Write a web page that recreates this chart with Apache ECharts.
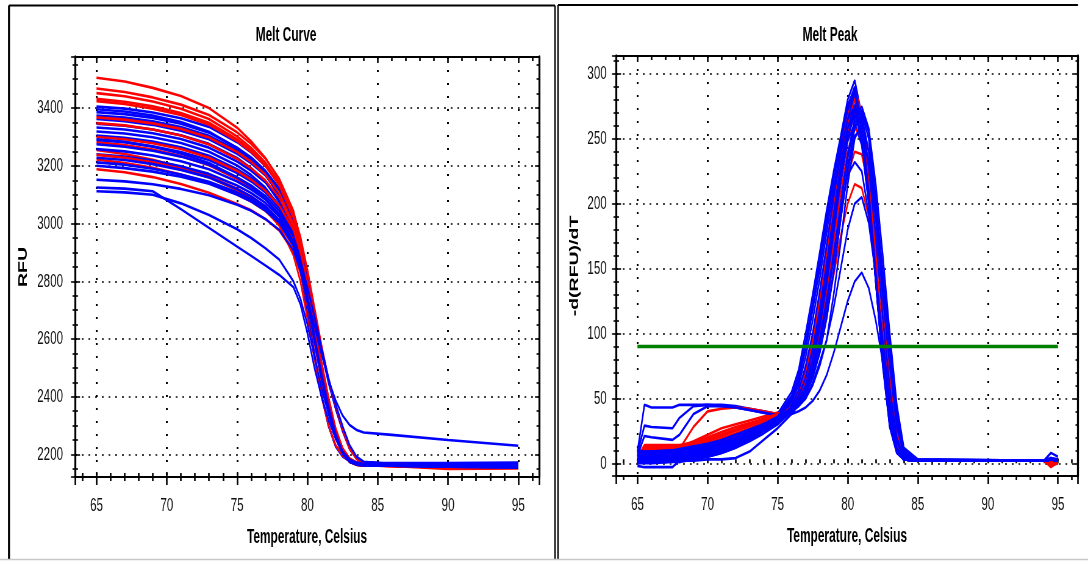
<!DOCTYPE html>
<html><head><meta charset="utf-8">
<script src="https://cdn.jsdelivr.net/npm/echarts@6/dist/echarts.min.js"></script>
<style>
html,body{margin:0;padding:0;background:#fff;overflow:hidden}
#wrap{width:1088px;height:561px;overflow:hidden;position:relative;background:#fff}
#chart{width:1784px;height:561px;transform:scaleX(0.609865);transform-origin:0 0}
</style></head><body><div id="wrap"><div id="chart"></div></div>
<script>
// ---------------- DATA ----------------
// Melt Curve (RFU vs temperature)
const curveTemps = [65,67,69,71,73,75,76,77,78,79,79.5,80,80.5,81,81.5,82,82.5,83,83.5,84,86,90,95];
const curveRed = [
 [3505,3492,3470,3442,3400,3332,3285,3228,3152,3040,2940,2810,2665,2520,2395,2290,2222,2186,2172,2166,2162,2158,2157],
 [3468,3456,3437,3412,3376,3316,3276,3226,3155,3045,2945,2815,2668,2522,2398,2292,2222,2186,2171,2165,2161,2157,2156],
 [3452,3441,3423,3398,3362,3302,3262,3212,3143,3032,2932,2800,2652,2505,2382,2280,2214,2181,2169,2164,2160,2156,2155],
 [3432,3422,3406,3383,3349,3292,3254,3206,3138,3040,2955,2840,2710,2580,2460,2360,2280,2218,2184,2170,2163,2157,2155],
 [3424,3414,3398,3376,3342,3286,3248,3200,3132,3020,2918,2785,2636,2490,2370,2272,2208,2178,2167,2163,2160,2155,2154],
 [3368,3360,3347,3328,3298,3248,3214,3170,3106,3000,2905,2774,2628,2484,2366,2270,2207,2178,2167,2163,2161,2158,2157],
 [3348,3340,3326,3305,3274,3224,3191,3150,3090,2988,2895,2768,2624,2481,2364,2269,2206,2177,2166,2163,2161,2158,2157],
 [3282,3272,3256,3234,3202,3154,3124,3086,3032,2942,2856,2736,2600,2462,2352,2262,2203,2176,2166,2163,2160,2157,2156],
 [3255,3241,3221,3196,3165,3121,3094,3060,3012,2928,2846,2728,2594,2458,2350,2261,2202,2175,2165,2162,2160,2157,2156],
 [3222,3210,3193,3170,3141,3101,3076,3044,2998,2918,2838,2722,2590,2455,2348,2259,2201,2175,2165,2162,2160,2150,2152],
 [3188,3178,3161,3137,3107,3068,3046,3016,2976,2902,2828,2716,2586,2452,2346,2257,2200,2174,2164,2162,2160,2157,2156],
 [3300,3292,3278,3258,3228,3182,3152,3114,3062,2978,2900,2800,2690,2570,2460,2370,2290,2220,2185,2172,2165,2158,2156],
 [3238,3228,3212,3190,3160,3115,3086,3048,2992,2890,2800,2670,2530,2400,2300,2232,2196,2178,2170,2166,2162,2156,2154]
];
const curveBlue = [
 [3405,3398,3385,3365,3335,3282,3246,3200,3135,3025,2925,2790,2642,2497,2377,2278,2212,2182,2172,2170,2170,2170,2172],
 [3396,3388,3374,3352,3318,3262,3222,3170,3095,2960,2850,2700,2550,2410,2300,2230,2195,2178,2172,2170,2169,2168,2168],
 [3386,3379,3366,3346,3315,3263,3229,3184,3121,3013,2915,2783,2636,2493,2374,2276,2211,2181,2171,2169,2168,2167,2167],
 [3374,3367,3354,3334,3304,3254,3220,3177,3114,3007,2910,2780,2634,2491,2373,2275,2210,2180,2170,2168,2167,2166,2166],
 [3362,3355,3342,3322,3292,3242,3209,3167,3106,3004,2915,2805,2690,2565,2455,2365,2288,2222,2188,2174,2168,2166,2165],
 [3346,3339,3326,3306,3276,3227,3192,3145,3075,2950,2840,2690,2540,2405,2300,2232,2196,2178,2171,2168,2166,2164,2164],
 [3333,3326,3313,3293,3263,3215,3183,3143,3084,2983,2889,2763,2621,2483,2367,2272,2208,2179,2169,2166,2165,2164,2163],
 [3319,3312,3299,3279,3249,3201,3168,3125,3060,2945,2840,2695,2545,2405,2298,2228,2193,2177,2170,2167,2165,2163,2162],
 [3305,3297,3284,3264,3235,3188,3158,3120,3064,2968,2876,2752,2612,2477,2362,2269,2206,2177,2167,2165,2164,2162,2161],
 [3290,3282,3268,3248,3220,3175,3146,3108,3054,2960,2870,2748,2608,2475,2360,2268,2205,2177,2167,2165,2163,2161,2160],
 [3275,3266,3252,3232,3204,3160,3132,3096,3044,2960,2885,2785,2675,2555,2448,2360,2285,2220,2186,2173,2166,2162,2160],
 [3258,3250,3236,3216,3188,3146,3118,3084,3034,2955,2880,2785,2680,2565,2455,2362,2285,2222,2186,2172,2165,2161,2158],
 [3240,3232,3218,3198,3172,3132,3106,3072,3024,2938,2852,2736,2600,2468,2355,2265,2204,2176,2166,2164,2162,2159,2157],
 [3212,3204,3190,3170,3145,3108,3084,3052,3008,2928,2846,2732,2598,2466,2354,2264,2203,2175,2165,2163,2161,2158,2156],
 [3200,3192,3180,3162,3138,3100,3076,3045,3002,2924,2844,2730,2596,2465,2353,2264,2203,2175,2165,2163,2161,2158,2156],
 [3152,3146,3136,3120,3098,3065,3044,3016,2978,2908,2835,2725,2592,2462,2352,2263,2203,2175,2165,2163,2161,2158,2155],
 [3125,3121,3112,3050,2985,2920,2888,2855,2822,2780,2720,2620,2500,2400,2320,2255,2208,2182,2170,2166,2164,2160,2157],
 [3112,3108,3100,3070,3030,2980,2950,2915,2875,2800,2740,2650,2540,2430,2340,2265,2210,2182,2170,2166,2163,2159,2156],
 [3292,3283,3266,3243,3210,3160,3128,3086,3026,2925,2842,2745,2645,2548,2458,2388,2335,2302,2285,2276,2268,2250,2230],
 [3228,3220,3206,3186,3160,3120,3094,3060,3012,2938,2870,2780,2680,2570,2465,2375,2298,2232,2192,2175,2166,2160,2157]
];
// Melt Peak (-d(RFU)/dT vs temperature)
const peakTemps = [65,65.5,66,67.5,68,69,70,71,72,73,74,75,76,76.5,77,77.5,78,78.5,79,79.5,80,80.5,81,81.5,82,82.5,83,83.5,84,85,94,94.5,95];
const peakRed = [
 [5,12,12,12,13,17,22,27,30,33,36,39,46,56,74,98,130,166,205,242,272,290,266,214,150,86,36,11,3,2,2,-3,1],
 [6,11,11,11,11,28,40,42,43,42,40,38,44,52,65,85,114,150,190,228,262,282,262,215,152,88,36,10,3,2,2,1,2],
 [5,11,11,11,11,14,17,21,25,29,33,37,43,51,64,84,112,148,188,226,260,280,268,230,175,112,58,20,5,2,2,2,1],
 [4,10,10,10,10,12,15,19,23,27,31,36,42,50,62,82,110,145,185,222,255,275,258,212,155,95,42,13,4,2,2,-2,0],
 [5,14,14,14,14,16,19,22,26,30,34,38,44,53,68,92,124,162,200,238,268,288,270,222,160,95,40,12,3,2,2,2,1],
 [4,9,9,9,10,12,14,17,21,26,31,36,42,48,58,75,100,132,170,208,240,258,252,222,175,115,60,20,5,2,2,2,1],
 [5,12,12,12,12,15,18,22,26,30,34,38,42,48,58,75,98,128,162,195,222,240,238,212,170,118,68,25,6,2,2,2,1],
 [4,10,10,10,11,14,17,21,25,29,33,37,41,46,55,70,90,115,145,175,200,215,212,190,150,100,50,15,4,2,2,2,1],
 [5,13,13,13,13,16,20,24,28,31,34,37,43,50,62,80,106,140,180,218,250,270,256,215,158,95,42,13,3,2,2,-1,0]
];
const peakBlue = [
 [9,45,43,43,45,45,45,45,44,42,40,38,45,56,72,98,130,168,205,240,268,282,262,212,148,82,32,10,3,2,2,4,2],
 [8,29,28,27,35,44,45,44,43,41,39,37,43,52,67,90,122,160,198,235,264,280,258,208,145,80,30,9,3,2,2,3,2],
 [6,21,20,18,22,38,44,44,43,41,39,37,42,50,64,86,116,152,190,228,258,274,254,205,142,78,30,9,3,2,2,4,3],
 [-2,-3,-3,-3,2,2,3,3,4,9,18,27,38,45,56,74,100,135,175,215,248,262,245,200,140,78,30,9,3,2,2,3,2],
 [5,6,6,7,7,9,12,16,21,26,31,38,55,72,100,130,162,195,225,252,280,295,268,215,150,85,35,10,3,2,2,3,2],
 [4,5,5,6,6,8,11,15,20,25,30,36,52,68,94,124,156,190,220,248,275,290,262,210,145,80,32,10,3,2,2,3,2],
 [3,4,4,5,5,7,9,12,16,22,28,34,45,56,75,100,132,168,205,238,265,285,262,212,150,85,35,11,3,2,2,3,2],
 [2,3,3,4,5,7,9,12,16,22,28,34,42,50,63,80,105,140,182,225,258,270,248,200,140,78,32,10,3,2,2,3,2],
 [7,8,8,9,9,11,13,16,20,25,30,36,48,60,82,110,142,178,212,242,265,275,255,208,148,85,35,11,4,2,2,3,2],
 [1,2,2,3,3,4,6,9,13,19,25,31,40,45,50,62,78,95,130,170,215,250,262,240,200,140,90,40,10,2,2,3,2],
 [3,3,3,4,4,6,8,11,15,20,26,32,40,44,52,66,85,112,148,188,225,252,258,232,188,128,78,32,8,2,2,3,2],
 [10,9,9,10,11,13,15,18,22,26,30,34,38,40,43,48,56,68,85,105,125,140,147,135,110,78,45,18,6,3,2,3,2],
 [5,5,5,6,6,8,10,13,17,22,28,33,40,44,50,60,75,95,120,150,180,200,205,185,145,95,48,16,5,2,2,3,2],
 [2,2,2,3,3,5,7,10,14,20,26,32,40,46,55,70,92,122,158,195,222,232,225,192,145,90,40,12,4,2,2,3,2],
 [6,7,7,8,8,10,12,15,19,24,29,36,50,64,88,118,150,185,218,248,272,285,258,205,140,75,28,8,3,2,2,3,2],
 [1,2,2,2,3,5,7,10,14,20,26,33,42,48,56,70,90,120,158,198,235,262,272,255,205,148,92,40,10,2,2,3,2],
 [4,5,5,6,6,8,10,13,17,22,27,33,41,48,60,78,104,138,178,218,250,272,268,240,190,130,75,28,7,2,2,3,2],
 [8,9,9,10,10,12,14,16,19,23,28,34,43,52,66,88,118,154,192,230,258,272,252,205,142,78,30,9,3,2,2,3,2],
 [3,4,4,5,5,7,9,12,16,22,28,34,43,51,66,86,114,150,190,228,258,276,258,210,148,84,34,10,3,2,2,8,5],
 [0,1,1,2,2,4,5,8,12,18,25,32,41,46,54,66,85,112,148,188,228,258,270,250,200,142,88,36,9,2,2,3,2],
 [2,3,3,3,4,6,8,11,15,21,27,34,48,64,90,120,152,188,222,250,276,288,260,205,140,76,28,8,3,2,2,3,2],
 [6,6,6,7,7,9,11,14,18,23,28,34,42,48,58,74,96,126,162,200,238,265,275,258,215,160,100,45,12,3,2,3,2],
 [0,0,0,1,1,3,5,8,12,17,23,30,40,47,60,80,108,145,185,222,252,268,262,228,175,112,58,20,5,2,2,3,2]
];
const thresholdValue = 90;
const thresholdRange = [65, 95];
const titles = ['Melt Curve', 'Melt Peak'];
const xName = 'Temperature, Celsius';
const yNames = ['RFU', '-d(RFU)/dT'];

// ---------------- LAYOUT ----------------
const S = 0.609865;               // horizontal squash applied by CSS
const X = v => v / S;             // screen px -> pre-squash px
const FONT = "'Liberation Sans', Arial, Helvetica, sans-serif";
const RED = '#ff0000', BLUE = '#0000ff';

const grids = [
  {left: X(75), top: 57, width: X(539) - X(75), height: 420},
  {left: X(616), top: 56, width: X(1078) - X(616), height: 420}
];
const xRanges = [[63.47, 96.47], [63.47, 96.43]];
const yRanges = [[2122, 3577], [-9.8, 313.7]];
const ySplit = [7, 6];
const yMinor = [4, 5];
const yLabelMargin = [X(12), X(9.3)];
const yNameGap = [74, 57];
const plain = v => String(Math.round(v));

const xAxes = [], yAxes = [];
const tickStyle = w => ({color: '#000', width: w});
for (let g = 0; g < 2; g++) {
  const xr = xRanges[g], yr = yRanges[g];
  xAxes.push({
    type: 'value', gridIndex: g, min: xr[0], max: xr[1], splitNumber: 6, position: 'bottom',
    axisLine: {show: true, onZero: false, lineStyle: tickStyle(2)},
    axisTick: {show: true, inside: false, length: 8, lineStyle: tickStyle(2.6)},
    minorTick: {show: true, splitNumber: 5, length: 4, lineStyle: tickStyle(2.6)},
    axisLabel: {show: true, margin: 19, fontSize: 19, color: '#111', fontFamily: FONT, showMinLabel: false, showMaxLabel: false, formatter: plain},
    splitLine: {show: true, lineStyle: {color: '#000', width: 3, type: [2, 11]}},
    name: xName, nameLocation: 'middle', nameGap: 51,
    nameTextStyle: {fontSize: 19.5, fontWeight: 'bold', color: '#000', fontFamily: FONT}
  });
  xAxes.push({
    type: 'value', gridIndex: g, min: xr[0], max: xr[1], splitNumber: 6, position: 'bottom',
    axisLine: {show: false}, axisLabel: {show: false}, splitLine: {show: false},
    axisTick: {show: true, inside: true, length: 5, lineStyle: tickStyle(2.6)},
    minorTick: {show: true, splitNumber: 5, length: 4, lineStyle: tickStyle(2.6)}
  });
  xAxes.push({
    type: 'value', gridIndex: g, min: xr[0], max: xr[1], splitNumber: 6, position: 'top',
    axisLine: {show: true, onZero: false, lineStyle: tickStyle(2)}, axisLabel: {show: false}, splitLine: {show: false},
    axisTick: {show: true, inside: true, length: 6, lineStyle: tickStyle(2.6)},
    minorTick: {show: true, splitNumber: 5, length: 4, lineStyle: tickStyle(2.6)}
  });
  yAxes.push({
    type: 'value', gridIndex: g, min: yr[0], max: yr[1], splitNumber: ySplit[g], position: 'left',
    axisLine: {show: true, onZero: false, lineStyle: tickStyle(X(2))},
    axisTick: {show: true, inside: false, length: X(4), lineStyle: tickStyle(1.6)},
    minorTick: {show: true, splitNumber: yMinor[g], length: X(2.5), lineStyle: tickStyle(1.6)},
    axisLabel: {show: true, margin: yLabelMargin[g], fontSize: 19, color: '#111', fontFamily: FONT, showMinLabel: false, showMaxLabel: false, formatter: plain},
    splitLine: {show: true, lineStyle: {color: '#000', width: 1.6, type: [3, 8]}},
    name: yNames[g], nameLocation: 'middle', nameGap: yNameGap[g], nameRotate: 90,
    nameTextStyle: {fontSize: 19.5, fontWeight: 'bold', color: '#000', fontFamily: FONT}
  });
  yAxes.push({
    type: 'value', gridIndex: g, min: yr[0], max: yr[1], splitNumber: ySplit[g], position: 'left',
    axisLine: {show: false}, axisLabel: {show: false}, splitLine: {show: false},
    axisTick: {show: true, inside: true, length: X(5), lineStyle: tickStyle(1.6)},
    minorTick: {show: true, splitNumber: yMinor[g], length: X(3), lineStyle: tickStyle(1.6)}
  });
  yAxes.push({
    type: 'value', gridIndex: g, min: yr[0], max: yr[1], splitNumber: ySplit[g], position: 'right',
    axisLine: {show: true, onZero: false, lineStyle: tickStyle(X(2))}, axisLabel: {show: false}, splitLine: {show: false},
    axisTick: {show: true, inside: true, length: X(4), lineStyle: tickStyle(1.6)},
    minorTick: {show: true, splitNumber: yMinor[g], length: X(2.5), lineStyle: tickStyle(1.6)}
  });
}

const series = [];
function addLines(temps, reds, blues, g) {
  const n = Math.max(reds.length, blues.length);
  for (let i = 0; i < n; i++) {
    [[blues[i], BLUE], [reds[i], RED]].forEach(([vals, col]) => {
      if (!vals) return;
      series.push({
        type: 'line', xAxisIndex: g * 3, yAxisIndex: g * 3, showSymbol: false, silent: true,
        data: temps.map((t, k) => [t, vals[k]]),
        lineStyle: {color: col, width: 2.6}, itemStyle: {color: col}, z: 3
      });
    });
  }
}
addLines(curveTemps, curveRed, curveBlue, 0);
addLines(peakTemps, peakRed, peakBlue, 1);
series.push({
  type: 'line', xAxisIndex: 3, yAxisIndex: 3, showSymbol: false, silent: true, z: 5,
  data: thresholdRange.map(t => [t, thresholdValue]),
  lineStyle: {color: '#008000', width: 3.5}
});

const line = (x1, y1, x2, y2, w, c) => ({type: 'line', silent: true, z: 10,
  shape: {x1, y1, x2, y2}, style: {stroke: c || '#000', lineWidth: w}});

const chart = echarts.init(document.getElementById('chart'), null, {renderer: 'canvas'});
chart.setOption({
  animation: false,
  backgroundColor: '#fff',
  textStyle: {fontFamily: FONT},
  title: [
    {text: titles[0], left: X(283), top: 21, textAlign: 'center', textStyle: {fontSize: 19.5, fontWeight: 'bold', color: '#000', fontFamily: FONT}},
    {text: titles[1], left: X(827), top: 21, textAlign: 'center', textStyle: {fontSize: 19.5, fontWeight: 'bold', color: '#000', fontFamily: FONT}}
  ],
  grid: grids,
  xAxis: xAxes,
  yAxis: yAxes,
  series: series,
  graphic: [
    line(X(9), 5.5, X(555), 5.5, 2),
    line(X(9), 5.5, X(9), 560, X(2)),
    line(X(555), 5.5, X(555), 560, X(1.4)),
    line(X(558), 5, X(1078), 5, 2),
    line(X(558), 5, X(558), 560, X(1.4)),
    line(0, 559.5, X(1088), 559.5, 1.5, '#c8c8c8')
  ]
});
</script></body></html>
